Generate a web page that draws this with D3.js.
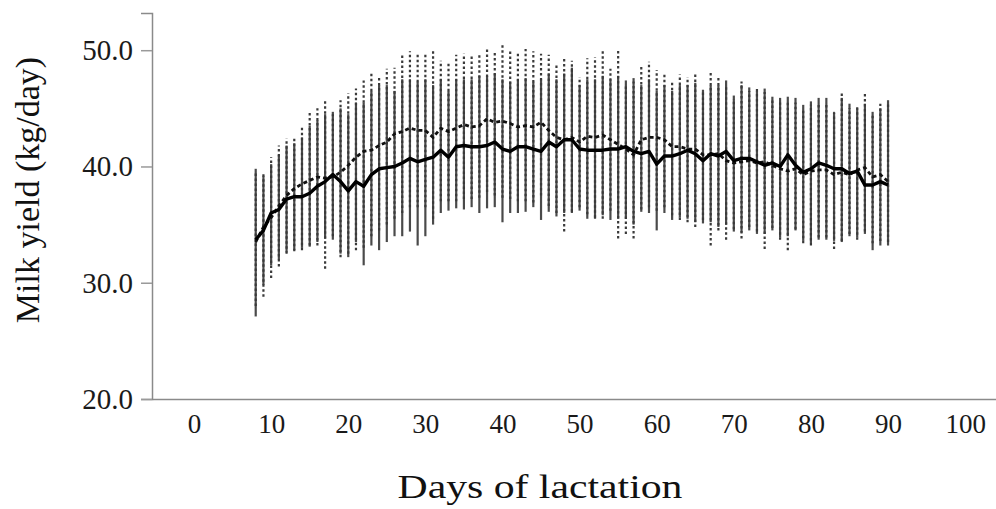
<!DOCTYPE html>
<html>
<head>
<meta charset="utf-8">
<script src="https://cdn.jsdelivr.net/npm/d3@7"></script>
<style>
  body { margin: 0; background: #fff; }
  svg { display: block; }
</style>
</head>
<body>
<div id="vis1"></div>
<script>
// datos (dias 8 a 90)
let days = d3.range(8, 91);

// grupo linea continua
let meanA = [33.7,34.5,36.0,36.3,37.2,37.4,37.4,37.7,38.3,38.7,39.3,38.7,37.9,38.7,38.3,39.3,39.8,39.9,40.0,40.3,
  40.7,40.4,40.6,40.8,41.4,40.8,41.7,41.8,41.7,41.7,41.8,42.1,41.5,41.3,41.7,41.7,41.5,41.3,42.1,41.7,
  42.3,42.3,41.5,41.4,41.4,41.4,41.5,41.5,41.7,41.3,41.1,41.3,40.2,40.9,40.9,41.1,41.4,41.1,40.5,41.1,
  40.9,41.3,40.5,40.7,40.7,40.4,40.1,40.3,40.0,41.0,40.1,39.5,39.8,40.3,40.1,39.8,39.8,39.4,39.6,38.4,
  38.4,38.7,38.4];
let hiA = [39.8,39.2,40.2,41.0,41.8,42.0,42.5,43.5,44.0,44.5,44.7,45.0,44.5,45.5,45.5,46.5,47.0,47.0,46.5,47.5,
  47.5,47.3,47.5,47.0,47.5,46.5,47.5,47.5,47.5,47.8,47.8,48.0,47.5,47.3,47.5,47.6,47.3,47.5,48.0,47.5,
  48.0,48.5,47.0,47.5,47.5,47.8,47.5,47.8,47.4,47.6,47.0,47.5,46.5,47.0,46.5,47.0,47.0,47.2,46.6,47.0,
  47.0,47.4,46.1,47.0,46.8,46.5,46.7,46.0,45.9,46.0,45.9,45.3,45.6,45.9,45.9,44.7,45.9,45.4,45.0,45.4,
  44.7,45.0,45.7];
let loA = [27.1,29.8,31.5,32.0,32.6,32.8,33.0,33.1,33.5,33.8,33.7,32.5,32.2,33.5,31.5,33.2,32.8,33.5,34.0,34.0,
  34.4,33.2,34.0,35.0,36.0,36.2,36.4,36.3,36.5,36.0,36.4,36.5,35.2,36.0,36.0,36.1,36.5,35.4,36.1,35.7,
  36.0,36.0,36.2,35.5,35.5,35.8,35.4,35.5,35.5,35.0,36.1,36.0,34.5,36.0,35.4,35.6,35.5,35.2,35.1,35.2,
  34.8,35.0,34.4,34.3,34.5,34.2,34.2,34.5,33.9,34.0,34.5,33.6,33.4,33.7,33.7,33.6,33.5,34.0,33.9,34.2,
  32.8,33.2,33.2];

// grupo linea punteada
let meanB = [33.5,34.8,35.6,36.6,37.5,38.1,38.5,38.8,39.1,39.0,39.1,39.5,40.1,40.8,41.3,41.4,41.8,42.1,42.8,43.0,
  43.3,43.1,43.1,42.5,43.3,43.0,43.3,43.6,43.4,43.5,44.1,43.8,43.9,43.7,43.4,43.5,43.4,43.8,43.1,42.5,
  42.3,42.5,42.1,42.6,42.5,42.7,42.3,41.9,41.5,41.0,42.3,42.5,42.5,42.3,41.7,41.7,41.5,41.5,41.0,41.0,
  41.1,40.5,40.3,40.4,40.5,40.3,40.4,40.1,39.8,39.6,39.8,39.3,39.6,39.7,39.7,39.3,39.5,39.3,39.7,39.9,
  39.1,39.3,38.7];
let hiB = [39.5,39.4,40.8,41.8,42.4,42.5,43.4,44.6,45.0,45.7,44.5,45.7,46.3,46.7,47.4,48.1,47.7,48.4,48.5,49.6,
  49.9,49.6,49.6,49.9,49.1,49.0,49.6,49.7,49.6,49.7,50.1,49.9,50.5,50.0,49.7,50.1,49.9,49.7,49.6,48.9,
  49.3,49.1,47.7,49.3,49.4,49.9,48.4,50.1,47.0,47.3,48.6,49.0,48.3,48.1,47.4,47.9,47.7,48.0,46.4,48.1,
  47.6,47.0,45.8,47.3,46.5,46.7,46.4,45.7,45.5,45.6,45.5,45.0,45.3,45.4,45.5,44.6,46.4,45.0,45.3,46.4,
  44.5,45.4,45.5];
let loB = [28.0,28.8,30.4,31.4,32.5,32.7,32.8,33.2,33.2,31.2,34.0,32.2,32.5,32.8,33.0,34.0,34.5,35.0,35.5,36.0,
  36.5,36.5,36.5,35.5,37.0,37.0,37.0,37.2,37.2,37.3,37.8,37.5,37.3,37.2,37.0,37.0,36.9,37.5,36.6,36.0,
  34.4,36.1,36.5,35.9,35.6,35.5,36.2,33.8,34.2,33.8,36.3,36.5,36.2,36.5,35.8,35.4,35.2,34.8,35.4,33.2,
  34.5,33.7,34.6,33.8,34.8,34.4,32.9,34.7,33.7,32.8,34.6,33.4,33.2,33.9,33.9,32.9,33.6,34.2,33.7,34.4,
  33.4,33.6,33.5];

let yTicks = [20, 30, 40, 50];
let xTicks = d3.range(0, 101, 10);

//SVG
let w = 996, h = 509;
let margin = {top: 13, bottom: 110, right: 0, left: 152};

let svg = d3.select("#vis1")
  .append("svg")
  .attr("width", w)
  .attr("height", h);

let x = d3.scaleLinear().domain([-5.45, 104]).range([margin.left, w - margin.right]);
let y = d3.scaleLinear().domain([20, 53.2]).range([h - margin.bottom, margin.top]);

let fuente = "'Liberation Serif', 'Times New Roman', serif";

// ejes
let gy = svg.append("g")
  .attr("transform", "translate(" + margin.left + ",0)")
  .call(d3.axisLeft(y).tickValues(yTicks).tickFormat(d3.format(".1f")).tickSize(11).tickPadding(8));
gy.select(".domain").attr("stroke", "#8a8a8a").attr("stroke-width", 1.5);
gy.selectAll(".tick line").attr("stroke", "#9a9a9a").attr("stroke-width", 1.5);
gy.selectAll(".tick text").attr("font-family", fuente).attr("font-size", 29).attr("fill", "#1a1a1a");

let gx = svg.append("g")
  .attr("transform", "translate(0," + (h - margin.bottom) + ")")
  .call(d3.axisBottom(x).tickValues(xTicks).tickFormat(d3.format("d")).tickSize(0).tickPadding(15).tickSizeOuter(0));
gx.select(".domain").attr("stroke", "#8a8a8a").attr("stroke-width", 1.5);
gx.selectAll(".tick text").attr("font-family", fuente).attr("font-size", 27).attr("fill", "#1a1a1a");

// titulos
svg.append("text")
  .attr("x", 540).attr("y", 498)
  .attr("text-anchor", "middle")
  .attr("font-family", fuente).attr("font-size", 33).attr("fill", "#111")
  .attr("textLength", 285).attr("lengthAdjust", "spacingAndGlyphs")
  .text("Days of lactation");

svg.append("text")
  .attr("transform", "translate(39,190) rotate(-90)")
  .attr("text-anchor", "middle")
  .attr("font-family", fuente).attr("font-size", 34).attr("fill", "#111")
  .text("Milk yield (kg/day)");

// barras de error
let datosA = days.map((d, i) => ({d: d, m: meanA[i], lo: loA[i], hi: hiA[i]}));
let datosB = days.map((d, i) => ({d: d, m: meanB[i], lo: loB[i], hi: hiB[i]}));

svg.append("g").selectAll("line")
  .data(datosA)
  .enter().append("line")
  .attr("x1", d => x(d.d)).attr("x2", d => x(d.d))
  .attr("y1", d => y(d.lo)).attr("y2", d => y(d.hi))
  .attr("stroke", "#4a4a4a")
  .attr("stroke-width", 2.2);

svg.append("g").selectAll("line")
  .data(datosB)
  .enter().append("line")
  .attr("x1", d => x(d.d)).attr("x2", d => x(d.d))
  .attr("y1", d => y(d.lo)).attr("y2", d => y(d.hi))
  .attr("stroke", "#3a3a3a")
  .attr("stroke-width", 2.2)
  .attr("stroke-dasharray", "2.5,2.5");

// lineas de medias
let linea = d3.line().x(d => x(d.d)).y(d => y(d.m));

svg.append("path")
  .datum(datosB)
  .attr("d", linea)
  .attr("fill", "none")
  .attr("stroke", "#111")
  .attr("stroke-width", 2.8)
  .attr("stroke-dasharray", "4,3");

svg.append("path")
  .datum(datosA)
  .attr("d", linea)
  .attr("fill", "none")
  .attr("stroke", "#000")
  .attr("stroke-width", 3.4)
  .attr("stroke-linejoin", "round");
</script>
</body>
</html>
